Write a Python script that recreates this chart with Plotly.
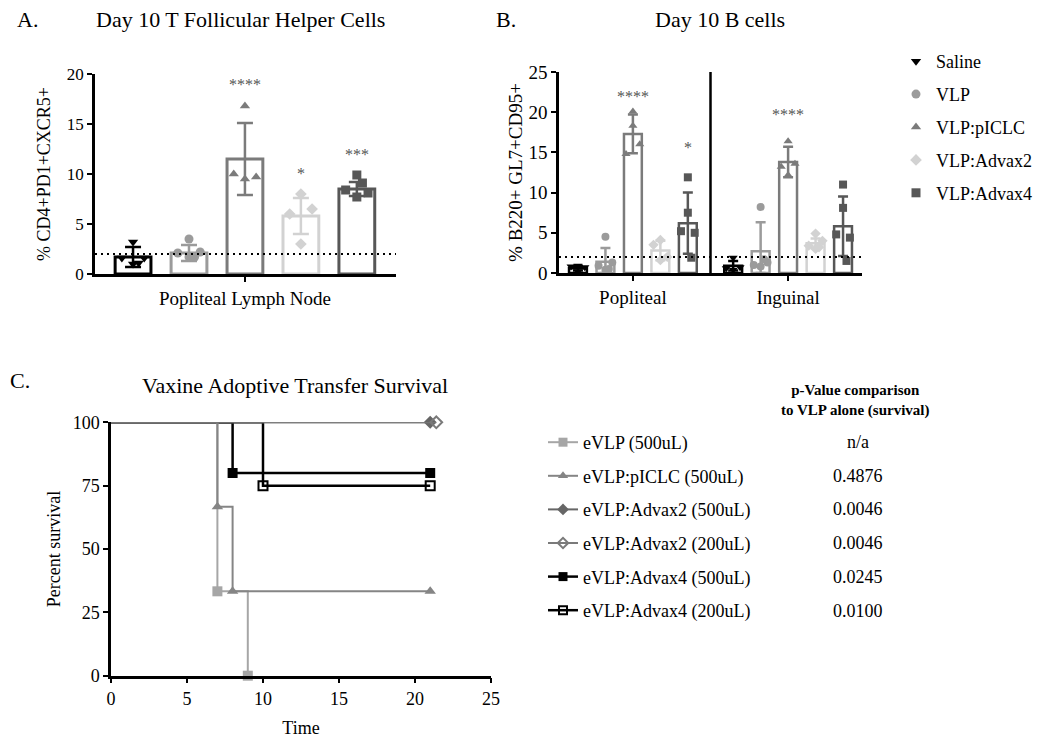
import plotly.graph_objects as go

FONT = "Liberation Serif, Times New Roman, serif"

# ---------------- data ----------------
GROUPS = ["Saline", "VLP", "VLP:pICLC", "VLP:Advax2", "VLP:Advax4"]

# Panel A: Day 10 Tfh cells, popliteal lymph node
A_SITE = "Popliteal Lymph Node"
A_MEAN = [1.7, 2.1, 11.5, 5.8, 8.5]
A_SD = [1.0, 0.8, 3.6, 1.8, 0.7]
A_POINTS = [
    [3.2, 1.6, 1.6, 1.0, 1.1],
    [3.5, 2.1, 2.2, 1.7, 1.7],
    [16.8, 10.0, 9.7, 9.5],
    [8.0, 6.0, 6.5, 3.0],
    [9.9, 8.4, 8.1, 7.7, 9.1],
]
A_STARS = ["", "", "****", "*", "***"]

# Panel B: Day 10 B cells (GC), two lymph nodes
B_SITES = ["Popliteal", "Inguinal"]
B_MEAN_POP = [0.6, 1.4, 17.3, 2.8, 6.2]
B_SD_POP = [0.3, 1.7, 2.4, 1.2, 3.8]
B_POINTS_POP = [
    [0.9, 0.8, 0.7, 0.2],
    [4.5, 0.9, 1.3, 0.4, 0.5],
    [20.1, 14.8, 16.0, 18.3],
    [4.1, 3.5, 2.0, 1.6],
    [11.9, 5.2, 5.0, 7.5, 1.9],
]
B_STARS_POP = ["", "", "****", "", "*"]
B_MEAN_ING = [0.9, 2.7, 13.8, 3.7, 5.8]
B_SD_ING = [0.6, 3.6, 1.9, 0.6, 3.7]
B_POINTS_ING = [
    [1.9, 0.6, 0.7, 0.4],
    [8.2, 1.0, 1.3, 0.8, 1.7],
    [16.4, 13.2, 13.6, 12.2],
    [4.9, 3.4, 4.0, 3.0, 3.2],
    [11.0, 4.8, 4.4, 8.1, 1.5],
]
B_STARS_ING = ["", "", "****", "", ""]

LOD = 2  # dotted detection threshold

# Panel C: survival
C_SERIES = ["eVLP (500uL)", "eVLP:pICLC (500uL)", "eVLP:Advax2 (500uL)",
            "eVLP:Advax2 (200uL)", "eVLP:Advax4 (500uL)", "eVLP:Advax4 (200uL)"]
C_TIME = [[0, 7, 9], [0, 7, 8, 21], [0, 21], [0, 21.4], [0, 8, 21], [0, 10, 21]]
C_SURV = [[100, 33.3, 0], [100, 66.7, 33.3, 33.3], [100, 100], [100, 100],
          [100, 80, 80], [100, 75, 75]]
C_PVALUES = ["n/a", "0.4876", "0.0046", "0.0046", "0.0245", "0.0100"]

# ---------------- style ----------------
COLORS = ["#000000", "#9b9b9b", "#7b7b7b", "#d2d2d2", "#575757"]
SYMBOLS = ["triangle-down", "circle", "triangle-up", "diamond", "square"]
JITTER = [0, -1, 1, 0, 0.5]
C_COLORS = ["#a6a6a6", "#858585", "#666666", "#7a7a7a", "#000000", "#000000"]
C_SYMBOLS = ["square", "triangle-up", "diamond", "diamond-open", "square", "square-open"]
C_DRAW_ORDER = [4, 5, 0, 1, 2, 3]
STAR_COLOR = "#555555"

# page offset (browser body margin) and figure size
OFF = 8
W, H = 1050 - OFF, 741 - OFF


def px_x(p):
    return (p - OFF) / W


def px_y(p):
    return 1 - (p - OFF) / H


fig = go.Figure()

# ---------- Panel A ----------
A_SPREAD = 0.2
for i, g in enumerate(GROUPS):
    fig.add_trace(go.Bar(
        x=[i], y=[A_MEAN[i]], width=0.64, xaxis="x", yaxis="y",
        marker=dict(color="white", line=dict(color=COLORS[i], width=3)),
        error_y=dict(type="data", array=[A_SD[i]], arrayminus=[min(A_SD[i], A_MEAN[i])],
                     color=COLORS[i], thickness=2.5, width=8),
        showlegend=False, hoverinfo="skip"))
for i, g in enumerate(GROUPS):
    pts = A_POINTS[i]
    fig.add_trace(go.Scatter(
        x=[i + JITTER[k] * A_SPREAD for k in range(len(pts))], y=pts,
        mode="markers", xaxis="x", yaxis="y", name=g, legend="legend",
        legendgroup=g, legendrank=i + 1,
        marker=dict(symbol=SYMBOLS[i], color=COLORS[i], size=9, line=dict(width=0)),
        cliponaxis=False))

# ---------- Panel B ----------
B_OFFSET = 5.65
B_SPREAD = 0.25
B_MEANS = [B_MEAN_POP, B_MEAN_ING]
B_SDS = [B_SD_POP, B_SD_ING]
B_PTS = [B_POINTS_POP, B_POINTS_ING]
for i, g in enumerate(GROUPS):
    xs = [i + s * B_OFFSET for s in range(len(B_SITES))]
    means = [B_MEANS[s][i] for s in range(len(B_SITES))]
    sds = [B_SDS[s][i] for s in range(len(B_SITES))]
    fig.add_trace(go.Bar(
        x=xs, y=means, width=0.65, xaxis="x2", yaxis="y2",
        marker=dict(color="white", line=dict(color=COLORS[i], width=2.5)),
        error_y=dict(type="data", array=sds, arrayminus=[min(a, b) for a, b in zip(sds, means)],
                     color=COLORS[i], thickness=2.5, width=5),
        showlegend=False, hoverinfo="skip"))
for i, g in enumerate(GROUPS):
    for s in range(len(B_SITES)):
        pts = B_PTS[s][i]
        fig.add_trace(go.Scatter(
            x=[i + s * B_OFFSET + JITTER[k] * B_SPREAD for k in range(len(pts))], y=pts,
            mode="markers", xaxis="x2", yaxis="y2", showlegend=False, legendgroup=g,
            marker=dict(symbol=SYMBOLS[i], color=COLORS[i], size=8, line=dict(width=0)),
            cliponaxis=False))

# ---------- Panel C ----------
for idx in C_DRAW_ORDER:
    t, s = C_TIME[idx], C_SURV[idx]
    col = C_COLORS[idx]
    lw = 2.5 if col == "#000000" else 2
    fig.add_trace(go.Scatter(
        x=t, y=s, mode="lines", line=dict(color=col, width=lw, shape="hv"),
        xaxis="x3", yaxis="y3", showlegend=False, legendgroup=C_SERIES[idx],
        cliponaxis=False, hoverinfo="skip"))
    open_sym = C_SYMBOLS[idx].endswith("open")
    fig.add_trace(go.Scatter(
        x=t[1:], y=s[1:], mode="markers", xaxis="x3", yaxis="y3", showlegend=False,
        legendgroup=C_SERIES[idx],
        marker=dict(symbol=C_SYMBOLS[idx], color=col, size=9 if open_sym else 10,
                    line=dict(color=col, width=2 if open_sym else 0)),
        cliponaxis=False))
for idx, name in enumerate(C_SERIES):
    open_sym = C_SYMBOLS[idx].endswith("open")
    col = C_COLORS[idx]
    fig.add_trace(go.Scatter(
        x=[None], y=[None], mode="lines+markers", name=name, legend="legend2",
        legendgroup=name, legendrank=idx + 1, xaxis="x3", yaxis="y3",
        line=dict(color=col, width=2.5 if col == "#000000" else 2),
        marker=dict(symbol=C_SYMBOLS[idx], color=col, size=8 if open_sym else 9,
                    line=dict(color=col, width=2 if open_sym else 0))))

# ---------- axes ----------
axis_common = dict(showgrid=False, zeroline=False, showline=True, linecolor="black",
                   linewidth=2.5, ticks="outside", tickwidth=2, ticklen=5,
                   tickcolor="black", fixedrange=True, automargin=False)
txt = dict(family=FONT, color="black")

fig.update_layout(
    xaxis=dict(domain=[px_x(95), px_x(396)], range=[-0.68, 4.70], anchor="y",
               tickvals=[2], ticktext=[A_SITE], tickfont=dict(size=19, **txt), **axis_common),
    yaxis=dict(domain=[px_y(274), px_y(74)], range=[0, 20], anchor="x",
               tickvals=[0, 5, 10, 15, 20], tickfont=dict(size=17, **txt),
               title=dict(text="% CD4+PD1+CXCR5+", font=dict(size=18, **txt), standoff=12),
               **axis_common),
    xaxis2=dict(domain=[px_x(559), px_x(862)], range=[-0.69, 10.34], anchor="y2",
                tickvals=[2 + s * B_OFFSET for s in range(len(B_SITES))], ticktext=B_SITES,
                tickfont=dict(size=19, **txt), **axis_common),
    yaxis2=dict(domain=[px_y(273), px_y(72)], range=[0, 25], anchor="x2",
                tickvals=[0, 5, 10, 15, 20, 25], tickfont=dict(size=19, **txt),
                title=dict(text="% B220+ GL7+CD95+", font=dict(size=19, **txt), standoff=1),
                **axis_common),
    xaxis3=dict(domain=[px_x(111), px_x(491)], range=[0, 25], anchor="y3",
                tickvals=[0, 5, 10, 15, 20, 25], tickfont=dict(size=18, **txt),
                title=dict(text="Time", font=dict(size=18, **txt), standoff=14),
                **axis_common),
    yaxis3=dict(domain=[px_y(675.7), px_y(422.3)], range=[0, 100], anchor="x3",
                tickvals=[0, 25, 50, 75, 100], tickfont=dict(size=18, **txt),
                title=dict(text="Percent survival", font=dict(size=18, **txt), standoff=8),
                **axis_common),
    barmode="overlay",
    width=W, height=H,
    margin=dict(l=0, r=0, t=0, b=0, autoexpand=False),
    paper_bgcolor="white", plot_bgcolor="white",
    font=dict(family=FONT, color="black"),
    legend=dict(x=px_x(896), y=px_y(43), xanchor="left", yanchor="top",
                font=dict(size=18, **txt), traceorder="grouped", tracegroupgap=6.5,
                itemwidth=30, bgcolor="rgba(0,0,0,0)"),
    legend2=dict(x=px_x(543), y=px_y(424), xanchor="left", yanchor="top",
                 font=dict(size=18, **txt), traceorder="grouped", tracegroupgap=7.2,
                 bgcolor="rgba(0,0,0,0)"),
)

# threshold lines and separator
for ax in ["", "2"]:
    fig.add_shape(type="line", xref=f"x{ax} domain", yref=f"y{ax}", x0=0, x1=1,
                  y0=LOD, y1=LOD, line=dict(color="black", width=2, dash="2px,4px"))
sep = ((len(GROUPS) - 1) + B_OFFSET) / 2
fig.add_shape(type="line", xref="x2", yref="y2", x0=sep, x1=sep, y0=0, y1=25.3,
              line=dict(color="black", width=2.5))


# significance stars
def add_stars(stars, points, xpos, xa, ya, shift):
    for i, st in enumerate(stars):
        if st:
            fig.add_annotation(x=xpos[i], y=max(points[i]), xref=xa, yref=ya, text=st,
                               showarrow=False, yshift=shift[i], yanchor="middle",
                               xanchor="center",
                               font=dict(family=FONT, size=16, color=STAR_COLOR))


add_stars(A_STARS, A_POINTS, list(range(len(GROUPS))), "x", "y", [0, 0, 21, 21, 21])
add_stars(B_STARS_POP, B_POINTS_POP, list(range(len(GROUPS))), "x2", "y2", [0, 0, 15, 0, 30])
add_stars(B_STARS_ING, B_POINTS_ING, [i + B_OFFSET for i in range(len(GROUPS))], "x2", "y2",
          [0, 0, 27, 0, 0])


# titles and panel letters
def ptext(text, x, y, size):
    fig.add_annotation(text=text, x=px_x(x), y=px_y(y), xref="paper", yref="paper",
                       xanchor="center", yanchor="middle", showarrow=False,
                       font=dict(family=FONT, size=size, color="black"))


ptext("A.", 27, 20, 22)
ptext("Day 10 T Follicular Helper Cells", 240, 20, 22)
ptext("B.", 506, 20, 22)
ptext("Day 10 B cells", 720, 20, 22)
ptext("C.", 20, 380, 22)
ptext("Vaxine Adoptive Transfer Survival", 295, 385, 22)
ptext("<b>p-Value comparison</b><br><b>to VLP alone (survival)</b>", 855, 400, 15)

# p-values aligned to legend rows
ROW0, ROWSTEP = 441.7, 33.8
for k, pv in enumerate(C_PVALUES):
    ptext(pv, 858, ROW0 + k * ROWSTEP, 18)

fig.write_html("out.html")
